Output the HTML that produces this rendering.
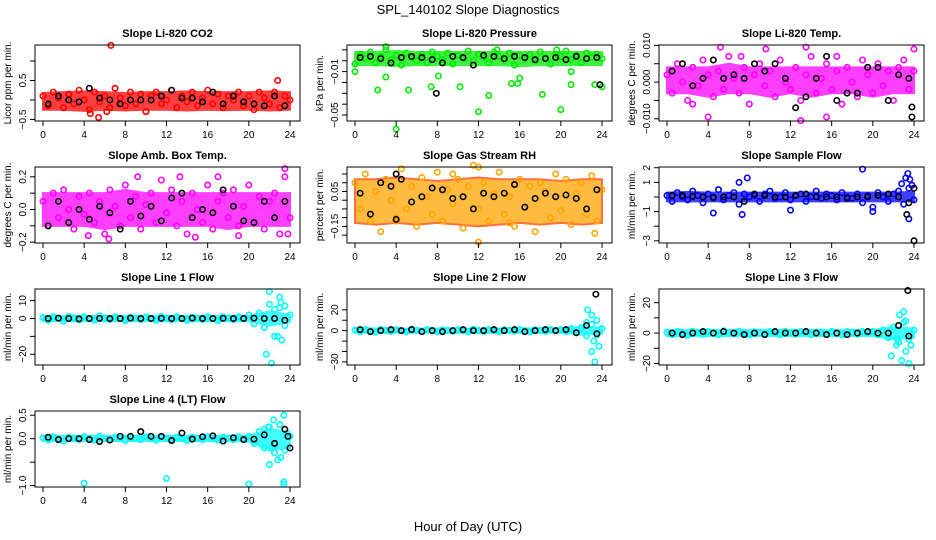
<!DOCTYPE html>
<html><head><meta charset="utf-8"><title>SPL_140102 Slope Diagnostics</title>
<style>
html,body{margin:0;padding:0;background:#fff;}
svg{display:block;font-family:"Liberation Sans",Arial,sans-serif;}
</style></head>
<body>
<svg id="fig" width="936" height="540" viewBox="0 0 936 540">
<text x="468" y="14" font-size="13" text-anchor="middle">SPL_140102  Slope Diagnostics</text>
<text x="468" y="531" font-size="13" text-anchor="middle">Hour of Day (UTC)</text>
</svg>
<script>
const hoursHalf=[0,0.5,1,1.5,2,2.5,3,3.5,4,4.5,5,5.5,6,6.5,7,7.5,8,8.5,9,9.5,10,10.5,11,11.5,12,12.5,13,13.5,14,14.5,15,15.5,16,16.5,17,17.5,18,18.5,19,19.5,20,20.5,21,21.5,22,22.5,23,23.5,24];
const hoursBlack=[0.5,1.5,2.5,3.5,4.5,5.5,6.5,7.5,8.5,9.5,10.5,11.5,12.5,13.5,14.5,15.5,16.5,17.5,18.5,19.5,20.5,21.5,22.5,23.5];
const hoursBand=[0,2,4,6,8,10,12,14,16,18,20,22,24];
const xTicks=[0,4,8,12,16,20,24];

const co2Color=[0.1,-0.15,0.2,0.05,-0.2,0.15,-0.1,0.25,0,-0.25,0.2,-0.05,0.1,-0.2,0.3,0.05,-0.15,0.2,-0.1,0.15,-0.3,0.1,0.2,-0.1,0,0.25,-0.2,0.1,-0.05,0.2,-0.15,0.05,0.25,-0.1,0.15,-0.2,0.1,0,0.2,-0.15,0.1,-0.25,0.2,0.05,-0.1,0.2,-0.2,0.1,0];
const co2Lo=[-0.25,-0.25,-0.28,-0.25,-0.27,-0.25,-0.25,-0.27,-0.25,-0.26,-0.25,-0.27,-0.25];
const co2Hi=[0.18,0.2,0.22,0.2,0.18,0.2,0.2,0.22,0.2,0.2,0.2,0.22,0.2];
const co2Black=[-0.1,0.1,0,-0.05,0.3,0.05,0,-0.1,0,0,0,0.1,0.25,0.05,0.05,-0.05,0.2,-0.1,0.1,-0.05,-0.1,-0.15,0.1,-0.15];
const co2Out=[[6.6,1.4],[4.6,-0.35],[5.4,-0.45],[22.8,0.5],[10,-0.3],[6.2,-0.3]];

const presColor=[-0.003,0.006,0.002,0.008,-0.002,0.004,0.01,0.001,0.005,-0.004,0.007,0.003,0.0,0.006,-0.002,0.008,0.004,0.001,0.007,-0.003,0.005,0.002,0.009,0.0,0.006,0.003,-0.002,0.008,0.004,0.001,0.007,-0.004,0.005,0.002,0.006,0.0,0.008,0.003,-0.003,0.006,0.004,0.009,0.001,0.005,-0.002,0.007,0.003,0.006,0.002];
const presLo=[-0.004,-0.004,-0.005,-0.004,-0.004,-0.004,-0.004,-0.004,-0.005,-0.004,-0.004,-0.004,-0.004];
const presHi=[0.008,0.008,0.009,0.008,0.008,0.008,0.008,0.008,0.008,0.008,0.008,0.008,0.008];
const presBlack=[0.003,0.004,0.002,-0.002,0.003,0.004,0.003,0.001,-0.002,0.004,0.003,-0.004,0.005,0.004,0.002,0.004,0.003,0.001,0.002,0.003,0.001,0.004,0.002,0.003];
const presOut=[[0,-0.01],[2.2,-0.027],[3,-0.015],[4,-0.063],[5.2,-0.027],[7.4,-0.024],[8.1,-0.014],[10.2,-0.024],[12,-0.047],[13,-0.032],[15.2,-0.021],[15.8,-0.021],[16,-0.016],[18.2,-0.031],[20,-0.045],[21,-0.022],[23.3,-0.022],[24,-0.024],[21,-0.01],[3,0.013],[13.8,0.01],[19.6,0.01]];
const presBlackOut=[[7.9,-0.03],[23.8,-0.022]];

const tempColor=[0.002,-0.003,0.005,0.0,-0.005,0.004,-0.001,0.006,0.002,-0.004,0.003,-0.002,0.007,0.001,-0.003,0.004,-0.006,0.002,0.005,-0.001,0.003,-0.004,0.006,0.0,-0.002,0.004,-0.005,0.002,0.007,-0.003,0.001,0.005,-0.002,0.003,-0.006,0.004,0.0,-0.004,0.006,0.002,-0.003,0.005,-0.001,0.003,-0.005,0.004,0.006,-0.002,0.003];
const tempLo=[-0.003,-0.003,-0.004,-0.003,-0.003,-0.004,-0.003,-0.004,-0.003,-0.003,-0.004,-0.003,-0.003];
const tempHi=[0.004,0.004,0.004,0.005,0.004,0.004,0.004,0.004,0.004,0.004,0.004,0.004,0.004];
const tempBlack=[0.003,0.005,-0.001,0.001,0.006,0.001,0.002,0.001,0.005,0.003,0.005,0.001,-0.007,-0.004,0.001,0.007,-0.005,-0.003,-0.003,0.004,0.004,-0.005,0.002,0.001];
const tempOut=[[4,-0.0095],[5.2,0.0095],[13,-0.0105],[13.5,0.0095],[15.5,-0.0095],[24,0.009],[9.6,0.009],[2.5,-0.006],[7.2,0.007],[16.5,0.007]];
const tempBlackOut=[[23.8,-0.0095],[23.8,-0.0068]];

const ambColor=[0.05,-0.1,0.1,-0.05,0.12,0,-0.12,0.08,-0.03,0.1,-0.08,0.05,-0.15,0.12,0.02,-0.1,0.15,-0.05,0.08,-0.12,0.03,0.1,-0.08,0.18,-0.02,0.12,-0.1,0.05,-0.15,0.1,0,-0.08,0.15,-0.12,0.05,0.1,-0.05,0.12,-0.1,0.02,0.15,-0.08,0.08,-0.12,0.05,0.1,-0.15,0.2,-0.05];
const ambLo=[-0.1,-0.1,-0.1,-0.12,-0.1,-0.1,-0.1,-0.1,-0.1,-0.12,-0.1,-0.1,-0.1];
const ambHi=[0.1,0.1,0.1,0.1,0.12,0.1,0.1,0.1,0.1,0.1,0.1,0.1,0.1];
const ambBlack=[-0.1,0.05,-0.08,0,-0.06,0.02,-0.02,-0.12,0.05,-0.04,0.02,-0.07,0.07,0.1,-0.05,0,-0.02,0.12,0.02,-0.07,-0.08,0.05,-0.05,0.05];
const ambOut=[[9.2,0.2],[13.3,0.2],[17,0.2],[23.5,0.25],[6.4,-0.18],[14.8,-0.17],[19,-0.16],[23.8,-0.15],[4.4,-0.16]];

const rhColor=[0.1,-0.05,0.15,-0.12,0.05,-0.18,0.12,0,-0.1,0.18,-0.05,0.08,-0.15,0.13,0.02,-0.08,0.16,-0.12,0.06,-0.02,0.12,-0.16,0.08,0.2,-0.05,0.1,-0.12,0.04,0.16,-0.08,0.02,-0.15,0.12,-0.04,0.08,-0.18,0.1,0.05,-0.1,0.15,-0.06,0.12,-0.14,0.04,0.1,-0.08,0.14,-0.12,0.06];
const rhLo=[-0.13,-0.14,-0.13,-0.14,-0.13,-0.14,-0.15,-0.14,-0.13,-0.14,-0.13,-0.14,-0.13];
const rhHi=[0.12,0.12,0.13,0.12,0.11,0.12,0.13,0.12,0.12,0.12,0.11,0.12,0.12];
const rhBlack=[0.04,-0.08,0.1,0.08,0.12,-0.01,0.02,0.07,0.06,0.01,0.02,-0.05,0.04,0.02,0.04,0.09,-0.04,0.01,0.04,0.02,0.03,0.01,-0.05,0.06];
const rhOut=[[4,-0.12],[12,0.19],[12,-0.24],[23.3,-0.19],[15,-0.13],[9.5,0.15]];
const rhBlackOut=[[4,0.15],[4,-0.11]];

const sfColor=[0.1,-0.3,0.3,0,-0.2,0.4,0.1,-0.4,0.2,0,0.5,-0.2,0.1,0.3,-0.5,0.2,0,0.1,-0.3,0.2,0.4,-0.1,0,0.3,-0.2,0.1,0.2,-0.3,0,0.4,-0.1,0.2,0.1,-0.2,0.3,0,-0.1,0.2,-0.4,0.1,-0.7,0.3,0,-0.3,0.2,0.4,-0.5,0.6,-0.2];
const sfLo=[-0.3,-0.3,-0.3,-0.3,-0.3,-0.3,-0.3,-0.3,-0.3,-0.3,-0.3,-0.3,-0.3];
const sfHi=[0.3,0.35,0.3,0.3,0.3,0.3,0.3,0.3,0.3,0.3,0.3,0.3,0.35];
const sfBlack=[0.1,0.1,0.05,0,-0.05,0,0,-0.3,0.2,0.1,0,0,0.1,0.2,0,0,0,-0.1,0,0,0.1,0.2,0,-0.4];
const sfOut=[[7,1],[7.8,1.3],[4.5,-1.1],[7.3,-1.2],[19,1.9],[20,-1],[22.8,0.9],[23.2,1.3],[23.4,1.6],[23.6,1.2],[23.5,-1.5],[23.8,0.8],[12,-0.9]];
const sfBlackOut=[[24,-3],[23.3,-1.2],[24,0.6]];

const l1Color=[0.5,-1,1,0,-1.5,1.2,0.3,-0.8,1,0,-1,1.5,0.2,-0.5,1,0,-1.2,0.8,0.3,-0.6,1,0,-1,1.2,0.2,-0.7,1,0,-1,0.8,0.3,-0.5,1,0,-1.2,1,0.2,-0.6,1,0,2,-3,3,-5,8,-10,6,-4,2];
const l1Lo=[-1.5,-1.5,-1.5,-1.5,-1.5,-1.5,-1.5,-1.5,-1.5,-1.5,-1.5,-4,-2];
const l1Hi=[1.5,1.5,1.5,1.5,1.5,1.5,1.5,1.5,1.5,1.5,1.5,4,2];
const l1Black=[0,0.2,0,-0.2,0,0.1,0,0,0.2,0,0,0.1,0,0,0.2,0,0,0.1,0,0,0.2,0,0,-1];
const l1Out=[[21.7,-20],[22.2,-25],[22,15],[22.8,-10],[23,12],[23.2,-12],[22.5,5],[23.5,7],[21.5,-5],[23.1,9]];
const l1BlackOut=[];

const l2Color=[0.5,-1,1,0,-1.5,1.2,0.3,-0.8,1,0,-1,1.5,0.2,-0.5,1,0,-1.2,0.8,0.3,-0.6,1,0,-1,1.2,0.2,-0.7,1,0,-1,0.8,0.3,-0.5,1,0,-1.2,1,0.2,-0.6,1,0,1,-1,2,-2,3,-5,6,-4,2];
const l2Lo=[-2,-2,-2,-2,-2,-2,-2,-2,-2,-2,-2,-4,-3];
const l2Hi=[2,2,2,2,2,2,2,2,2,2,2,4,3];
const l2Black=[1,-1,0,1,0,1,-1,0,-1,0,1,0,0,1,0,1,-1,0,1,0,1,-2,5,-3];
const l2Out=[[23,-20],[23.3,-30],[23,15],[22.6,20],[23.5,10],[23.2,-10],[22.5,8],[23.7,-15]];
const l2BlackOut=[[23.4,35]];

const l3Color=[0.5,-1,1,0,-1.5,1.2,0.3,-0.8,1,0,-1,1.5,0.2,-0.5,1,0,-1.2,0.8,0.3,-0.6,1,0,-1,1.2,0.2,-0.7,1,0,-1,0.8,0.3,-0.5,1,0,-1.2,1,0.2,-0.6,1,0,1,-1,2,-3,4,-6,7,-4,2];
const l3Lo=[-2,-2,-2,-2,-2,-2,-2,-2,-2,-2,-2,-4,-3];
const l3Hi=[2,2,2,2,2,2,2,2,2,2,2,4,3];
const l3Black=[0,-1,0,1,0,1,0,-1,0,-1,1,0,0,1,0,-1,0,-1,0,1,0,0,5,-2];
const l3Out=[[21.8,-15],[22.3,-8],[22.6,12],[23,14],[23.2,-12],[23.5,-20],[23.7,-8],[22.8,-18],[23.2,8],[22.4,-4]];
const l3BlackOut=[[23.4,28]];

const l4Color=[0.02,-0.03,0.04,0,-0.05,0.03,0.01,-0.02,0.04,0,-0.03,0.05,0.01,-0.02,0.03,0,-0.04,0.03,0.01,-0.02,0.04,0,-0.03,0.04,0.01,-0.02,0.03,0,-0.04,0.03,0.01,-0.02,0.04,0,-0.03,0.03,0.01,-0.02,0.04,0,0.05,-0.1,0.15,-0.2,0.25,-0.3,0.3,-0.25,0.05];
const l4Lo=[-0.05,-0.05,-0.05,-0.05,-0.05,-0.05,-0.05,-0.05,-0.05,-0.05,-0.06,-0.25,-0.2];
const l4Hi=[0.06,0.06,0.06,0.06,0.06,0.06,0.06,0.06,0.06,0.06,0.06,0.2,0.15];
const l4Black=[0.03,-0.02,0,0,-0.02,-0.06,-0.03,0.05,0.05,0.15,0.05,0.05,-0.04,0.12,-0.01,0.04,0.06,-0.05,0.02,-0.02,-0.01,0.08,-0.1,0.2];
const l4Out=[[4,-0.95],[12,-0.85],[20,-0.97],[23.4,-0.92],[23.4,-0.97],[22,-0.55],[22.4,0.4],[23.4,0.5],[22.8,-0.45],[23,0.3],[21.5,0.2],[23.1,-0.4],[22.3,-0.2],[21.9,0.25]];
const l4BlackOut=[[24,-0.2],[23.8,0.05]];

const panels=[
 {name:'co2',title:'Slope Li-820 CO2',ylab:'Licor ppm per min.',col:0,row:0,top:1.41,bot:-0.54,ticks:[-0.5,0,0.5,1.0],labels:[-0.5,0.5],fmt:v=>v.toFixed(1),color:'#ff0000',bandStroke:'#ff0000',vals:co2Color,lo:co2Lo,hi:co2Hi,black:co2Black,out:co2Out,bout:[]},
 {name:'pressure',title:'Slope Li-820 Pressure',ylab:'kPa per min.',col:1,row:0,top:0.0145,bot:-0.0555,ticks:[0.01,0,-0.01,-0.02,-0.03,-0.04,-0.05],labels:[-0.01,-0.05],fmt:v=>v.toFixed(2),color:'#00ee00',bandStroke:'#00ee00',vals:presColor,lo:presLo,hi:presHi,black:presBlack,out:presOut,bout:presBlackOut},
 {name:'li820-temp',title:'Slope Li-820 Temp.',ylab:'degrees C per min.',col:2,row:0,top:0.0101,bot:-0.0106,ticks:[0.01,0.005,0,-0.005,-0.01],labels:[0.01,0,-0.01],fmt:v=>v.toFixed(3),color:'#ff00ff',bandStroke:'#ff00ff',vals:tempColor,lo:tempLo,hi:tempHi,black:tempBlack,out:tempOut,bout:tempBlackOut},
 {name:'amb-box-temp',title:'Slope Amb. Box Temp.',ylab:'degrees C per min.',col:0,row:1,top:0.26,bot:-0.205,ticks:[0.2,0.1,0,-0.1,-0.2],labels:[0.2,0,-0.2],fmt:v=>v.toFixed(1),color:'#ff00ff',bandStroke:'#ff00ff',vals:ambColor,lo:ambLo,hi:ambHi,black:ambBlack,out:ambOut,bout:[]},
 {name:'gas-stream-rh',title:'Slope Gas Stream RH',ylab:'percent per min.',col:1,row:1,top:0.19,bot:-0.245,ticks:[0.15,0.1,0.05,0,-0.05,-0.1,-0.15,-0.2],labels:[0.05,-0.15],fmt:v=>v.toFixed(2),color:'#ffa500',bandStroke:'#ff4000',vals:rhColor,lo:rhLo,hi:rhHi,black:rhBlack,out:rhOut,bout:rhBlackOut},
 {name:'sample-flow',title:'Slope Sample Flow',ylab:'ml/min per min.',col:2,row:1,top:2.05,bot:-3.15,ticks:[2,1,0,-1,-2,-3],labels:[2,1,-1,-3],fmt:v=>String(v),color:'#0000ff',bandStroke:'#0000ff',vals:sfColor,lo:sfLo,hi:sfHi,black:sfBlack,out:sfOut,bout:sfBlackOut},
 {name:'line1-flow',title:'Slope Line 1 Flow',ylab:'ml/min per min.',col:0,row:2,top:16.5,bot:-26,ticks:[10,0,-10,-20],labels:[10,0,-20],fmt:v=>String(v),color:'#00ffff',bandStroke:'#00ffff',vals:l1Color,lo:l1Lo,hi:l1Hi,black:l1Black,out:l1Out,bout:l1BlackOut},
 {name:'line2-flow',title:'Slope Line 2 Flow',ylab:'ml/min per min.',col:1,row:2,top:40,bot:-33,ticks:[20,10,0,-10,-20,-30],labels:[20,0,-30],fmt:v=>String(v),color:'#00ffff',bandStroke:'#00ffff',vals:l2Color,lo:l2Lo,hi:l2Hi,black:l2Black,out:l2Out,bout:l2BlackOut},
 {name:'line3-flow',title:'Slope Line 3 Flow',ylab:'ml/min per min.',col:2,row:2,top:29,bot:-21,ticks:[20,10,0,-10,-20],labels:[20,0,-20],fmt:v=>String(v),color:'#00ffff',bandStroke:'#00ffff',vals:l3Color,lo:l3Lo,hi:l3Hi,black:l3Black,out:l3Out,bout:l3BlackOut},
 {name:'line4-flow',title:'Slope Line 4 (LT) Flow',ylab:'ml/min per min.',col:0,row:3,top:0.59,bot:-1.03,ticks:[0.5,0,-0.5,-1],labels:[0.5,0,-1],fmt:v=>v.toFixed(1),color:'#00ffff',bandStroke:'#00ffff',vals:l4Color,lo:l4Lo,hi:l4Hi,black:l4Black,out:l4Out,bout:l4BlackOut}
];

const NS='http://www.w3.org/2000/svg';
const svg=document.getElementById('fig');
function mk(tag,attrs,parent){const e=document.createElementNS(NS,tag);for(const k in attrs)e.setAttribute(k,attrs[k]);parent.appendChild(e);return e;}
const colLeft=[35,347,659],rowTop=[45,167,289,411],W=265,H=76;

panels.forEach(p=>{
 const L=colLeft[p.col],T=rowTop[p.row],B=T+H;
 const xs=h=>L+8+h*247/24;
 const ys=v=>T+(p.top-v)/(p.top-p.bot)*H;
 const g=mk('g',{},svg);
 
 
 const t=mk('text',{x:L+W/2,y:T-8,'font-size':11,'font-weight':'bold','text-anchor':'middle'},g);
 t.textContent=p.title;
 
 
 const yl=mk('text',{transform:`translate(${L-24},${T+H/2}) rotate(-90)`,'font-size':10,'text-anchor':'middle'},g);
 yl.textContent=p.ylab;
 
 
 let d='';
 hoursBand.forEach((h,i)=>{d+=(i?'L':'M')+xs(h)+','+ys(p.hi[i]);});
 for(let i=hoursBand.length-1;i>=0;i--)d+='L'+xs(hoursBand[i])+','+ys(p.lo[i]);
 const band=mk('path',{d:d+'Z',fill:p.color,opacity:0.75,stroke:p.bandStroke,'stroke-width':2},g);
 
 
 const pts=mk('g',{fill:'none',stroke:p.color,'stroke-width':1.6},g);
 
 
 hoursHalf.forEach((h,i)=>{const c=mk('circle',{cx:xs(h),cy:ys(p.vals[i]),r:2.7},pts);
  
  });
 p.out.forEach(o=>{const c=mk('circle',{cx:xs(o[0]),cy:ys(o[1]),r:2.7},pts);
  
  });
 const bg=mk('g',{fill:'none',stroke:'#000','stroke-width':1.6},g);
 
 
 hoursBlack.forEach((h,i)=>{const c=mk('circle',{cx:xs(h),cy:ys(p.black[i]),r:2.7},bg);
  
  });
 p.bout.forEach(o=>{const c=mk('circle',{cx:xs(o[0]),cy:ys(o[1]),r:2.7},bg);
  
  });
 const box=mk('rect',{x:L,y:T,width:W,height:H,fill:'none',stroke:'#000','stroke-width':1},g);
 
 
 xTicks.forEach(h=>{const x=xs(h);
  mk('line',{x1:x,x2:x,y1:B,y2:B+5,stroke:'#000'},g);
  const tl=mk('text',{x:x,y:B+17,'font-size':10,'text-anchor':'middle'},g);
  tl.textContent=h;
  
  });
 p.ticks.forEach(v=>{const y=ys(v);
  mk('line',{x1:L-5,x2:L,y1:y,y2:y,stroke:'#000'},g);});
 p.labels.forEach(v=>{const y=ys(v);
  const tl=mk('text',{transform:`translate(${L-9},${y}) rotate(-90)`,'font-size':10,'text-anchor':'middle'},g);
  tl.textContent=p.fmt(v).replace('-','\u2212');
  
  });
});
</script>
</body></html>
